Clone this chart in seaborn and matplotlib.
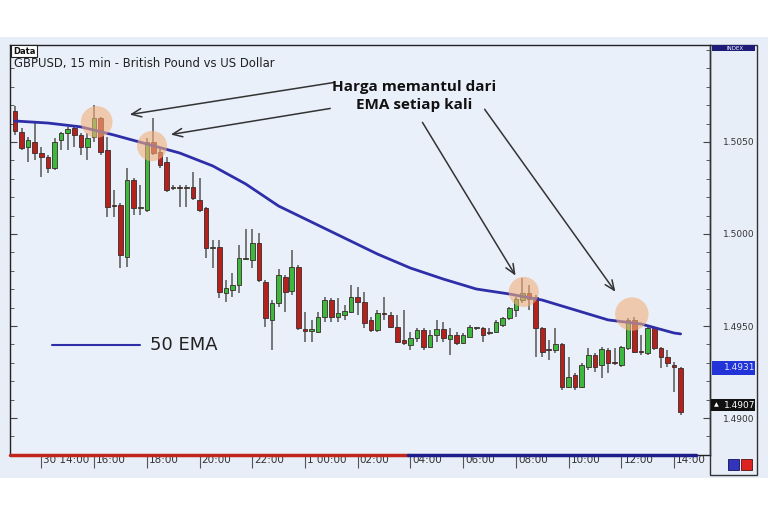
import numpy as np
import pandas as pd
import seaborn as sns
import matplotlib.pyplot as plt
from matplotlib.patches import Rectangle
from matplotlib.lines import Line2D
import matplotlib.transforms as mtransforms

# GBPUSD 15 min candles
opens = [1.50669, 1.50554, 1.50473, 1.50500, 1.50440, 1.50418, 1.50359, 1.50511, 1.50549, 1.50576,
         1.50538, 1.50473, 1.50527, 1.50630, 1.50457, 1.50158, 1.50158, 1.49875, 1.50293, 1.50141,
         1.50130, 1.50500, 1.50446, 1.50391, 1.50250, 1.50255, 1.50250, 1.50255, 1.50185, 1.50141,
         1.49924, 1.49929, 1.49679, 1.49696, 1.49723, 1.49864, 1.49859, 1.49951, 1.49739, 1.49533,
         1.49625, 1.49766, 1.49690, 1.49821, 1.49478, 1.49473, 1.49467, 1.49549, 1.49641, 1.49549,
         1.49560, 1.49576, 1.49658, 1.49630, 1.49533, 1.49478, 1.49571, 1.49560, 1.49495, 1.49424,
         1.49397, 1.49435, 1.49478, 1.49386, 1.49451, 1.49484, 1.49429, 1.49451, 1.49408, 1.49440,
         1.49489, 1.49489, 1.49462, 1.49467, 1.49505, 1.49543, 1.49587, 1.49641, 1.49679, 1.49658,
         1.49489, 1.49370, 1.49370, 1.49402, 1.49168, 1.49234, 1.49168, 1.49277, 1.49342, 1.49288,
         1.49370, 1.49299, 1.49288, 1.49380, 1.49533, 1.49359, 1.49353, 1.49489, 1.49380, 1.49332,
         1.49288, 1.49272]
highs = [1.50696, 1.50576, 1.50527, 1.50603, 1.50473, 1.50429, 1.50522, 1.50554, 1.50582, 1.50592,
         1.50549, 1.50549, 1.50701, 1.50636, 1.50527, 1.50239, 1.50168, 1.50359, 1.50304, 1.50266,
         1.50522, 1.50630, 1.50473, 1.50418, 1.50266, 1.50266, 1.50266, 1.50337, 1.50304, 1.50147,
         1.49967, 1.49967, 1.49750, 1.49788, 1.49940, 1.50027, 1.50027, 1.50005, 1.49750, 1.49641,
         1.49810, 1.49777, 1.49913, 1.49832, 1.49576, 1.49533, 1.49576, 1.49658, 1.49652, 1.49652,
         1.49614, 1.49723, 1.49712, 1.49685, 1.49549, 1.49587, 1.49658, 1.49576, 1.49560, 1.49587,
         1.49467, 1.49489, 1.49489, 1.49478, 1.49533, 1.49522, 1.49489, 1.49467, 1.49462, 1.49505,
         1.49495, 1.49495, 1.49489, 1.49533, 1.49549, 1.49603, 1.49658, 1.49761, 1.49723, 1.49668,
         1.49495, 1.49424, 1.49489, 1.49408, 1.49332, 1.49245, 1.49299, 1.49380, 1.49353, 1.49386,
         1.49380, 1.49380, 1.49391, 1.49543, 1.49549, 1.49451, 1.49505, 1.49495, 1.49386, 1.49370,
         1.49304, 1.49277]
lows = [1.50538, 1.50457, 1.50391, 1.50402, 1.50310, 1.50332, 1.50348, 1.50457, 1.50457, 1.50473,
        1.50429, 1.50402, 1.50500, 1.50429, 1.50092, 1.50092, 1.49815, 1.49821, 1.50103, 1.50103,
        1.50120, 1.50429, 1.50359, 1.50228, 1.50239, 1.50147, 1.50147, 1.50185, 1.50120, 1.49870,
        1.49815, 1.49652, 1.49630, 1.49658, 1.49679, 1.49859, 1.49815, 1.49739, 1.49495, 1.49370,
        1.49603, 1.49576, 1.49668, 1.49478, 1.49413, 1.49413, 1.49462, 1.49522, 1.49522, 1.49522,
        1.49533, 1.49571, 1.49560, 1.49489, 1.49467, 1.49467, 1.49533, 1.49489, 1.49408, 1.49397,
        1.49370, 1.49413, 1.49370, 1.49380, 1.49413, 1.49413, 1.49342, 1.49397, 1.49402, 1.49440,
        1.49478, 1.49413, 1.49451, 1.49462, 1.49495, 1.49533, 1.49549, 1.49625, 1.49587, 1.49332,
        1.49332, 1.49315, 1.49353, 1.49152, 1.49163, 1.49152, 1.49163, 1.49261, 1.49250, 1.49217,
        1.49245, 1.49288, 1.49277, 1.49370, 1.49353, 1.49342, 1.49342, 1.49370, 1.49272, 1.49277,
        1.49141, 1.49016]
closes = [1.50560, 1.50467, 1.50511, 1.50440, 1.50418, 1.50359, 1.50500, 1.50549, 1.50571, 1.50538,
          1.50473, 1.50522, 1.50630, 1.50446, 1.50147, 1.50152, 1.49886, 1.50293, 1.50141, 1.50147,
          1.50500, 1.50440, 1.50375, 1.50239, 1.50255, 1.50250, 1.50255, 1.50196, 1.50130, 1.49924,
          1.49929, 1.49685, 1.49707, 1.49723, 1.49870, 1.49870, 1.49951, 1.49750, 1.49543, 1.49625,
          1.49777, 1.49685, 1.49821, 1.49489, 1.49473, 1.49484, 1.49549, 1.49641, 1.49549, 1.49571,
          1.49582, 1.49658, 1.49630, 1.49516, 1.49478, 1.49571, 1.49565, 1.49495, 1.49413, 1.49408,
          1.49435, 1.49478, 1.49386, 1.49451, 1.49484, 1.49435, 1.49451, 1.49408, 1.49451, 1.49495,
          1.49491, 1.49451, 1.49464, 1.49522, 1.49543, 1.49598, 1.49647, 1.49679, 1.49647, 1.49489,
          1.49359, 1.49368, 1.49402, 1.49168, 1.49223, 1.49168, 1.49288, 1.49342, 1.49277, 1.49375,
          1.49299, 1.49297, 1.49386, 1.49533, 1.49359, 1.49357, 1.49489, 1.49380, 1.49332, 1.49299,
          1.49277, 1.49033]

# 50 EMA read at every 5th candle
ema_idx = [0, 5, 10, 15, 20, 25, 30, 35, 40, 45, 50, 55, 60, 65, 70, 75, 80, 85, 90, 95, 100, 101]
ema_vals = [1.50614, 1.50603, 1.50582, 1.50538, 1.50489, 1.50440, 1.50370, 1.50272, 1.50152, 1.50065,
            1.49978, 1.49891, 1.49815, 1.49755, 1.49701, 1.49674, 1.49641, 1.49587, 1.49533, 1.49511,
            1.49462, 1.49457]

price_ticks = [1.4900, 1.4950, 1.5000, 1.5050]
last_bid = 1.4931
last_price = 1.4907

times = pd.date_range("2010-11-30 13:00", periods=len(opens), freq="15min")

# the four bounces
bounce_x = [12.4, 20.8, 77.2, 93.6]
bounce_y = [1.50609, 1.50478, 1.49685, 1.49565]

df = pd.DataFrame({"t": np.arange(len(opens)), "open": opens, "high": highs,
                   "low": lows, "close": closes})

sns.set_style("white")
plt.rcParams['font.family'] = ['DejaVu Sans']

W, H = 768, 512
def fx(px):
    return px / W
def fy(py):
    return 1 - py / H

fig = plt.figure(figsize=(7.68, 5.12), dpi=100)
fig.patch.set_facecolor('white')
fig.patches.append(Rectangle((0, fy(478)), 1, fy(37) - fy(478), transform=fig.transFigure,
                             facecolor='#e8eef8', edgecolor='none', zorder=-5))

ax = fig.add_axes([fx(10), fy(455), fx(710) - fx(10), fy(45) - fy(455)])
ax.set_facecolor('#eaf0fa')

# candles
up = df["close"] >= df["open"]
colors = np.where(up, '#3cb83c', '#b4221e')
ax.vlines(df["t"], df["low"], df["high"], color='#555555', lw=1.1, zorder=2)
bottom = np.minimum(df["open"], df["close"])
height = np.maximum((df["close"] - df["open"]).abs(), 0.00008)
ax.bar(df["t"], height, bottom=bottom, width=0.7, color=colors,
       edgecolor='#3b2b2b', linewidth=0.6, zorder=3)

sns.lineplot(x=ema_idx, y=ema_vals, ax=ax, color='#2e2ea8', lw=2, zorder=4, legend=False)

ax.scatter(bounce_x, bounce_y, s=[520, 470, 470, 580], color='#f4b07a', alpha=0.6,
           edgecolor='none', zorder=5)

ax.set_xlim(-0.76, 105.46)
ax.set_ylim(1.48799, 1.51027)

# x axis: every 2 hours
tick_pos, tick_lab = [], []
for i, t in enumerate(times):
    if t.minute == 0 and t.hour % 2 == 0:
        tick_pos.append(i)
        if not tick_lab or t.hour == 0:
            tick_lab.append(f"{t.day} {t:%H:%M}")
        else:
            tick_lab.append(f"{t:%H:%M}")
ax.set_xticks(tick_pos)
ax.set_xticklabels(tick_lab, fontsize=7.5, color='#333333')
ax.tick_params(axis='x', bottom=True, direction='out', length=9, width=0.8,
               color='#555555', pad=-9)
offset = mtransforms.ScaledTranslation(1.5 / 72, 0, fig.dpi_scale_trans)
for lab in ax.get_xticklabels():
    lab.set_ha('left')
    lab.set_transform(lab.get_transform() + offset)

# y axis on the right
ax.yaxis.tick_right()
ax.set_yticks(price_ticks)
ax.set_yticklabels([f"{p:.4f}" for p in price_ticks], fontsize=6.5, color='#333333')
ax.set_yticks(np.arange(1.488, 1.5105, 0.001), minor=True)
ax.tick_params(axis='y', which='both', left=True, right=True, direction='in',
               labelleft=False, labelright=True, color='#444444')
ax.tick_params(axis='y', which='major', length=5, pad=9)
ax.tick_params(axis='y', which='minor', length=3)
for s in ax.spines.values():
    s.set_color('#222222')
    s.set_linewidth(1)

# red / blue session bar on the bottom edge
ax.plot([0, 0.568], [0, 0], transform=ax.transAxes, color='#c0261c', lw=2.5, clip_on=False, zorder=6)
ax.plot([0.568, 0.98], [0, 0], transform=ax.transAxes, color='#1d1d8c', lw=2.5, clip_on=False, zorder=6)

# price panel on the right
fig.patches.append(Rectangle((fx(710), fy(475)), fx(757) - fx(710), fy(45) - fy(475),
                             transform=fig.transFigure, facecolor='none', edgecolor='#333333', lw=1))
fig.patches.append(Rectangle((fx(712), fy(51)), fx(755) - fx(712), fy(45) - fy(51),
                             transform=fig.transFigure, facecolor='#1c1c78', edgecolor='none'))
fig.text(fx(735), fy(48), "INDEX", fontsize=4, color='white', ha='center', va='center')

y_bid = ax.transData.transform((0, last_bid))[1] / fig.bbox.height
fig.patches.append(Rectangle((fx(712), y_bid - 14 / H), fx(755) - fx(712), 14 / H,
                             transform=fig.transFigure, facecolor='#2233d8', edgecolor='none'))
fig.text(fx(740), y_bid - 7 / H, f"{last_bid:.4f}", fontsize=6.5, color='#dfe6ff', ha='center', va='center')
y_last = ax.transData.transform((0, last_price))[1] / fig.bbox.height
fig.patches.append(Rectangle((fx(711), y_last - 6 / H), fx(755) - fx(711), 12 / H,
                             transform=fig.transFigure, facecolor='#111111', edgecolor='none'))
fig.text(fx(716), y_last, "▲", fontsize=4.5, color='white', ha='center', va='center')
fig.text(fx(740), y_last, f"{last_price:.4f}", fontsize=6.5, color='white', ha='center', va='center')

# small buttons bottom right
fig.patches.append(Rectangle((fx(728), fy(470)), 11 / W, 11 / H, transform=fig.transFigure,
                             facecolor='#3333bb', edgecolor='#111155', lw=0.6))
fig.patches.append(Rectangle((fx(741), fy(470)), 11 / W, 11 / H, transform=fig.transFigure,
                             facecolor='#dd2222', edgecolor='#551111', lw=0.6))

# header
fig.text(fx(13), fy(51), "Data", fontsize=6, fontweight='bold', color='#111111', va='center',
         bbox=dict(boxstyle='square,pad=0.2', facecolor='white', edgecolor='#222222', lw=0.8))
fig.text(fx(14), fy(64), "GBPUSD, 15 min - British Pound vs US Dollar", fontsize=8.4,
         color='#222222', va='center')

# legend
fig.add_artist(Line2D([fx(52), fx(140)], [fy(345), fy(345)], color='#2e2ea8', lw=1.5))
fig.text(fx(150), fy(345), "50 EMA", fontsize=13, color='#222222', va='center')

# annotation
fig.text(fx(414), fy(96), "Harga memantul dari\nEMA setiap kali", fontsize=11, fontweight='bold',
         family=['Open Sans', 'DejaVu Sans'], color='#111111', ha='center', va='center', linespacing=1.35)
arrows = [((337, 82), (127, 115)), ((333, 108), (168, 135)),
          ((421, 120), (517, 278)), ((483, 107), (617, 294))]
for (x0, y0), (x1, y1) in arrows:
    ax.annotate('', xy=(fx(x1), fy(y1)), xytext=(fx(x0), fy(y0)),
                xycoords='figure fraction', textcoords='figure fraction', annotation_clip=False,
                arrowprops=dict(arrowstyle='->,head_length=0.7,head_width=0.3',
                                color='#333333', lw=1.1))

fig.savefig("out.png", dpi=100)
